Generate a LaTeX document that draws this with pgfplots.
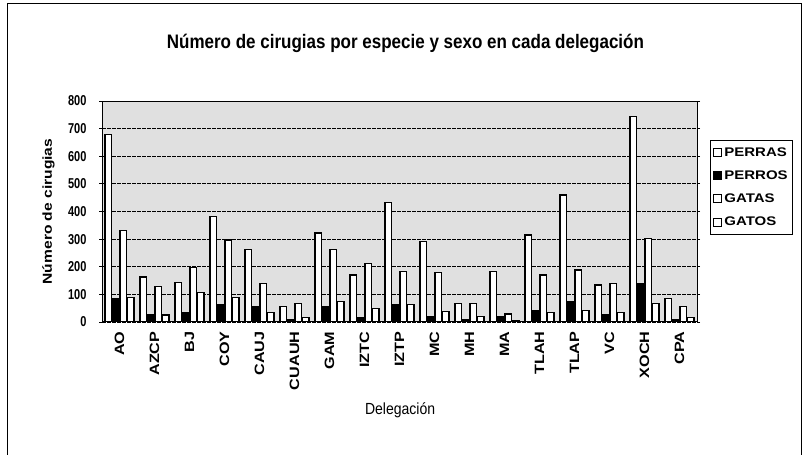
\documentclass[border=0pt]{standalone}
\usepackage{pgfplots}
\pgfplotsset{compat=1.18}
\usepackage{fontspec}
\setmainfont{Liberation Sans}
\newcommand\sx[1]{\scalebox{1.2}[1]{#1}}
\begin{document}
\begin{tikzpicture}[x=1pt,y=1pt]
\useasboundingbox (0,0) rectangle (803,455);
\draw[line width=0.8pt] (7,-2) -- (7,452) -- (801,452) -- (801,-2);
\begin{axis}[
  at={(102pt,133pt)}, anchor=south west,
  scale only axis, width=595pt, height=221pt,
  ybar=1pt, bar width=6.5pt,
  xmin=-0.5, xmax=16.5, ymin=0, ymax=800,
  ytick={0,100,...,800},
  xtick={0,...,16},
  xticklabels={\sx{AO},\sx{AZCP},\sx{BJ},\sx{COY},\sx{CAUJ},\sx{CUAUH},\sx{GAM},\sx{IZTC},\sx{IZTP},\sx{MC},\sx{MH},\sx{MA},\sx{TLAH},\sx{TLAP},\sx{VC},\sx{XOCH},\sx{CPA}},
  xticklabel style={rotate=90, anchor=east, font=\bfseries\fontsize{13.5}{15}\selectfont, xshift=-3pt},
  x tick style={draw=none},
  /pgf/number format/assume math mode=true,
  yticklabel={\scalebox{1}[1.3]{\pgfmathprintnumber{\tick}}},
  yticklabel style={font=\bfseries\fontsize{11}{13}\selectfont, xshift=-9pt},
  tick align=outside, major tick length=3pt,
  y tick style={black, line width=0.8pt},
  axis line style={black, line width=1pt},
  axis background/.style={fill=black!12},
  ymajorgrids,
  major grid style={black, line width=0.9pt, dash pattern=on 4pt off 1pt},
  title={\scalebox{1}[1.15]{Número de cirugias por especie y sexo en cada delegación}},
  title style={at={(axis description cs:0.51,1.235)}, anchor=center, font=\bfseries\fontsize{17}{20}\selectfont},
  ylabel={\scalebox{1.2}[1]{Número de cirugias}},
  ylabel style={at={(axis description cs:-0.09,0.5)}, anchor=center, font=\bfseries\fontsize{13}{15}\selectfont},
  xlabel={\scalebox{1}[1.15]{Delegación}},
  xlabel style={at={(axis description cs:0.501,-0.398)}, anchor=center, font=\fontsize{14}{16}\selectfont},
  legend style={at={(axis description cs:1.0218,0.8235)}, anchor=north west, draw=black, line width=0.8pt,
    font=\bfseries\fontsize{12.5}{14}\selectfont, row sep=9pt, inner xsep=3pt, inner ysep=5pt},
  legend cell align=left,
  legend image code/.code={\draw[#1, line width=1pt] (0pt,-4pt) rectangle (8pt,4pt);},
]
\addplot[draw=black, fill=white, line width=1.2pt] coordinates {
(0,680) (1,163) (2,142) (3,382) (4,261) (5,57) (6,322) (7,170) (8,432) (9,291) (10,68) (11,182) (12,315) (13,460) (14,134) (15,744) (16,86)};
\addplot[draw=black, fill=black, line width=1.2pt] coordinates {
(0,85) (1,25) (2,35) (3,62) (4,55) (5,10) (6,55) (7,15) (8,62) (9,20) (10,10) (11,18) (12,43) (13,74) (14,25) (15,140) (16,10)};
\addplot[draw=black, fill=white, line width=1.2pt] coordinates {
(0,332) (1,128) (2,196) (3,297) (4,138) (5,68) (6,261) (7,213) (8,182) (9,179) (10,68) (11,29) (12,170) (13,188) (14,140) (15,303) (16,55)};
\addplot[draw=black, fill=white, line width=1.2pt] coordinates {
(0,88) (1,25) (2,106) (3,90) (4,33) (5,15) (6,74) (7,50) (8,62) (9,37) (10,20) (11,5) (12,33) (13,41) (14,33) (15,68) (16,15)};
\legend{\sx{PERRAS},\sx{PERROS},\sx{GATAS},\sx{GATOS}}
\end{axis}
\end{tikzpicture}
\end{document}
